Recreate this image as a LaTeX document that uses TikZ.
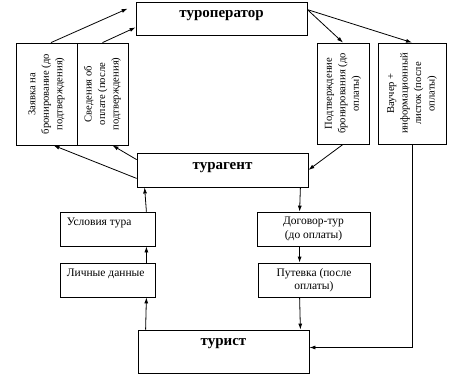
\documentclass[tikz,border=0pt]{standalone}
\usepackage{fontspec}
\setmainfont{Liberation Serif}
\usetikzlibrary{
	arrows.meta,
	calc,
	positioning
}

\begin{document}
\begin{tikzpicture}[x=1pt, y=-1pt,
		box/.style={draw, line width=0.8pt, inner sep=0pt},
		arr/.style={-{Latex[length=6pt,width=4pt]}, line width=0.8pt},
		title/.style={font=\fontsize{15}{17}\selectfont\bfseries},
		small/.style={font=\fontsize{11.5}{13.5}\selectfont, align=center, inner sep=0pt},
		upright/.style={font=\fontsize{10.6}{13.5}\selectfont, align=center, inner sep=0pt, rotate=90}]
		\useasboundingbox (0,0) rectangle (465,375);
		% participants
		\node[box, minimum width=171pt, minimum height=33pt] (operator) at (221.5,18.5) {};
		\node[box, minimum width=171pt, minimum height=34pt] (turagent) at (222.5,170) {};
		\node[box, minimum width=171pt, minimum height=43pt] (turist) at (223.5,351.5) {};
		\node[title] at ([yshift=-14pt]operator.north) {туроператор};
		\node[title] at ([yshift=-15pt]turagent.north) {турагент};
		\node[title] at ([yshift=-14pt]turist.north) {турист};
		% documents between agent and operator
		\node[box, minimum width=61pt, minimum height=102pt] (zayavka) at (46.5,94) {};
		\node[box, minimum width=51pt, minimum height=102pt] (svedeniya) at (102.5,94) {};
		\node[box, minimum width=52pt, minimum height=101pt] (podtv) at (343,93.5) {};
		\node[box, minimum width=68pt, minimum height=101pt] (vaucher) at (412,93.5) {};
		\node[upright] at (zayavka) {Заявка на\\бронирование (до\\подтверждения)};
		\node[upright] at (svedeniya) {Сведения об\\оплате (после\\подтверждения)};
		\node[upright] at (podtv) {Подтверждение\\бронирования (до\\оплаты)};
		\node[upright] at (vaucher) {Ваучер +\\информационный\\листок (после\\оплаты)};
		% documents between agent and tourist
		\node[box, minimum width=95pt, minimum height=34pt] (usloviya) at (107.5,229) {};
		\node[box, minimum width=95pt, minimum height=34pt] (lichnye) at (107.5,280) {};
		\node[box, minimum width=113pt, minimum height=34pt] (dogovor) at (313.5,229) {};
		\node[box, minimum width=112pt, minimum height=34pt] (putevka) at (314,280) {};
		\node[small, anchor=west] at ($(usloviya.north west)+(7,11)$) {Условия тура};
		\node[small, anchor=west] at ($(lichnye.north west)+(7,11)$) {Личные данные};
		\node[small] at (dogovor) {Договор-тур\\(до оплаты)};
		\node[small] at (putevka) {Путевка (после\\оплаты)};

		% upper loop
		\draw[arr] (zayavka.north -| 51,0) -- ($(operator.north west)+(-8,7)$);
		\draw[arr] (svedeniya.north) -- ($(operator.south west)+(0,-8)$);
		\draw[arr] ($(operator.north east)+(0,8)$) -- (podtv.north);
		\draw[arr] ($(operator.north east)+(0,8)$) -- (vaucher.north);
		\draw[arr] ($(turagent.south west)+(0,-9)$) -- ($(zayavka.south)+(7,0)$);
		\draw[arr] ($(turagent.north west)+(0,7)$) -- ($(svedeniya.south)+(10,0)$);
		\draw[arr] (podtv.south) -- (turagent.east);
		\draw[arr] (vaucher.south) |- ([yshift=4pt]turist.east);
		% lower loop
		\draw[arr] ($(turist.north west)+(8,0)$) -- ($(lichnye.south east)+(-9,0)$);
		\draw[arr] ($(lichnye.north east)+(-9,0)$) -- ($(usloviya.south east)+(-9,0)$);
		\draw[arr] ($(usloviya.north east)+(-9,0)$) -- ($(turagent.south west)+(8,0)$);
		\draw[arr] ($(turagent.south east)+(-8,0)$) -- ($(dogovor.north west)+(43,0)$);
		\draw[arr] ($(dogovor.south west)+(43,0)$) -- ($(putevka.north west)+(42,0)$);
		\draw[arr] ($(putevka.south west)+(42,0)$) -- ($(turist.north east)+(-9,0)$);
\end{tikzpicture}
\end{document}
